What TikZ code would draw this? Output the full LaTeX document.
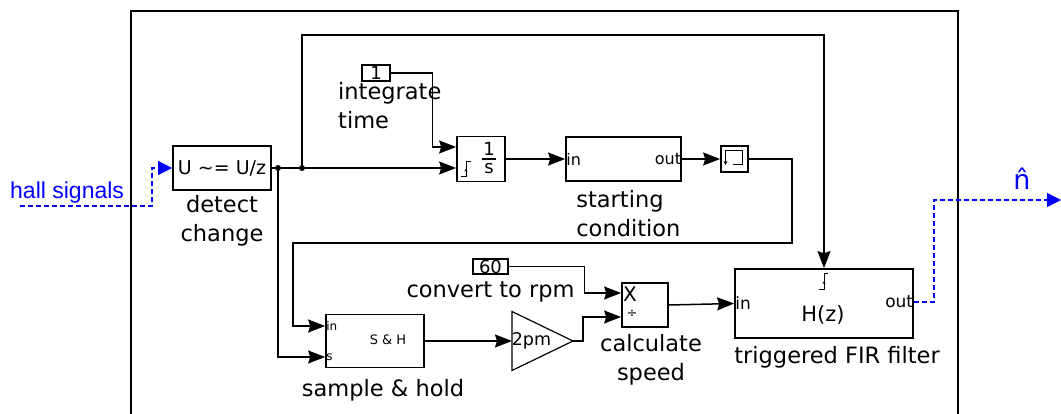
\documentclass[tikz,border=0pt]{standalone}
\usepackage{fontspec}
\setmainfont{DejaVu Sans}
\newfontfamily\hallfont{Liberation Sans}
\usetikzlibrary{arrows.meta,positioning,calc}

\definecolor{sigblue}{RGB}{0,0,255}

\begin{document}
\begin{tikzpicture}[
    x=1pt, y=-1pt,
    block/.style={rectangle, draw, line width=1.7pt, inner sep=0pt, fill=white},
    const/.style={block, line width=1.2pt, font=\fontsize{18}{20}\selectfont},
    lbl/.style={inner sep=0pt, align=center, font=\fontsize{22.5}{29}\selectfont},
    port/.style={inner sep=1pt, font=\fontsize{16}{18}\selectfont},
    sym/.style={inner sep=0pt, font=\fontsize{19}{22}\selectfont},
    wire/.style={line width=1.5pt},
    arrow/.style={-{Stealth[length=17pt,width=13pt,inset=2pt]}, line width=1.5pt},
    sig/.style={-{Triangle[length=14pt,width=14pt]}, line width=1.4pt, sigblue, dash pattern=on 5pt off 3pt},
    dot/.style={circle, fill, inner sep=0pt, minimum size=6pt}
]
\useasboundingbox (0,0) rectangle (1061,414);

% Subsystem frame
\draw[line width=1.2pt] (131,414) -- (131,11) -- (958,11) -- (958,414);

% Detect change
\node[block, minimum width=98pt, minimum height=44pt, font=\fontsize{19}{22}\selectfont] (detect) at (222,168) {U \textasciitilde= U/z};
\node[lbl, below=4pt of detect] (detectlbl) {detect\\change};

% Branch points
\node[dot] (split1) at (278,168) {};
\node[dot] (split2) at (302,168) {};

% Integrate time
\node[const, minimum width=28pt, minimum height=16pt] (one) at (376,73) {1};
\node[lbl, align=left, anchor=north west] (intlbl) at (338,82) {integrate\\time};

% Integrator
\node[block, minimum width=48pt, minimum height=45pt] (integ) at (481,159) {};
\node[sym, font=\fontsize{18}{20}\selectfont] (intnum) at (489,148.5) {1};
\node[sym, font=\fontsize{18}{20}\selectfont] (intden) at (489,169) {s};
\draw[line width=1.2pt] (482,159) -- (496,159);
\draw[line width=1pt, shift={(466,169.5)}] (-5,7.5) -- (0,7.5) -- (0,-7.5) -- (5,-7.5);
\draw[-{Stealth[length=3pt,width=3pt]}, line width=0.8pt, shift={(466,169.5)}] (0,4) -- (0,-1);

% Starting condition
\node[block, minimum width=115pt, minimum height=44pt] (startc) at (623.5,159) {};
\node[port, anchor=west] (startcin) at (startc.west) {in};
\node[port, anchor=east, inner sep=0.5pt] (startcout) at (startc.east) {out};
\node[lbl, align=left, below right=8pt and 11pt of startc.south west] (startlbl) {starting\\condition};

% Hold
\node[block, minimum width=27pt, minimum height=26pt] (hold) at (734.5,159) {};
\draw[line width=1pt, -{Stealth[length=4pt,width=4pt]}, shift={(hold.center)}] (-1.5,6) -- (8,6) -- (8,-8) -- (-9,-8) -- (-9,6);

% Sample and hold
\node[block, minimum width=98pt, minimum height=53pt] (sh) at (375,341) {};
\node[port, anchor=west, font=\fontsize{12}{14}\selectfont] (shin) at ($(sh.west)+(0,-15)$) {in};
\node[port, anchor=west, font=\fontsize{12}{14}\selectfont] (shs) at ($(sh.west)+(0,16)$) {s};
\node[sym, font=\fontsize{13}{15}\selectfont] (shtxt) at (388,340) {S \& H};
\node[lbl, below=11pt of sh, xshift=8pt] (shlbl) {sample \& hold};

% Gain
\coordinate (gainin) at (512,341);
\coordinate (gainout) at (573,341);
\draw[line width=1.2pt] ($(gainin)+(0,-29.5)$) -- (gainout) -- ($(gainin)+(0,29.5)$) -- cycle;
\node[sym, font=\fontsize{17.5}{19}\selectfont] (gaintxt) at (531.5,341) {2pm};

% Convert to rpm
\node[const, minimum width=35pt, minimum height=15pt] (sixty) at (490.5,266.5) {60};
\node[lbl, below=7pt of sixty] (rpmlbl) {convert to rpm};

% Calculate speed
\node[block, minimum width=46pt, minimum height=44pt] (prod) at (645,305) {};
\node[sym, font=\fontsize{20}{22}\selectfont] (prodx) at (630,294) {X};
\node[sym, font=\fontsize{13}{14}\selectfont] (proddiv) at (632,314) {÷};
\node[lbl, below=6pt of prod, xshift=6pt] (speedlbl) {calculate\\speed};

% Triggered FIR filter
\node[block, minimum width=178pt, minimum height=69pt] (fir) at (824,303.5) {};
\node[port, anchor=west, font=\fontsize{17}{19}\selectfont] (firin) at (fir.west) {in};
\node[port, anchor=east, inner sep=0.5pt, font=\fontsize{17}{19}\selectfont] (firout) at ($(fir.east)+(0,-1.5)$) {out};
\node[sym, font=\fontsize{21}{23}\selectfont] (firtxt) at (823,315) {H(z)};
\draw[line width=1pt, shift={(824,282)}] (-5,8) -- (0,8) -- (0,-8) -- (4,-8);
\draw[-{Stealth[length=3pt,width=3pt]}, line width=0.8pt, shift={(824,282)}] (0,4) -- (0,-1);
\node[lbl, align=left, below right=7pt and 0pt of fir.south west] (firlbl) {triggered FIR filter};

% Signals in and out
\coordinate (hallin) at (20,206);
\coordinate (nhatout) at (1061,200);
\node[anchor=base west, inner sep=0pt, text=sigblue, font=\hallfont\fontsize{23}{26}\selectfont] (halllbl) at (10,199) {hall signals};
\node[anchor=base, inner sep=0pt, text=sigblue, font=\fontsize{27}{30}\selectfont] (nhat) at (1022,190) {\^n};

% Arrows
\draw[sig] (hallin) -- ++(132,0) |- (detect.west);
\draw[wire] (detect.east) -- (split1) -- (split2);
\draw[arrow] (split2) -- (integ.west |- split2);
\draw[arrow] (split1) |- (shs.west);
\draw[arrow] (split2) -- ++(0,-133) -| (fir.north);
\draw[arrow] (one.east) -- ++(42,0) |- ($(integ.west)+(0,-12)$);
\draw[arrow] (integ.east) -- (startc.west);
\draw[arrow] (startc.east) -- (hold.west);
\coordinate (fbright) at (792,243);
\coordinate (fbleft) at (293,243);
\draw[arrow] (hold.east) -| (fbright) -- (fbleft) |- (shin.west);
\draw[arrow] (sh.east) -- (gainin);
\draw[arrow] (gainout) -- ++(10,0) |- ($(prod.west)+(0,12)$);
\draw[arrow] (sixty.east) -- ++(76,0) |- ($(prod.west)+(0,-12)$);
\draw[arrow] (prod.east) -- (fir.west);
\draw[sig] (firout.east) -- ++(20,0) |- (nhatout);

\end{tikzpicture}
\end{document}
